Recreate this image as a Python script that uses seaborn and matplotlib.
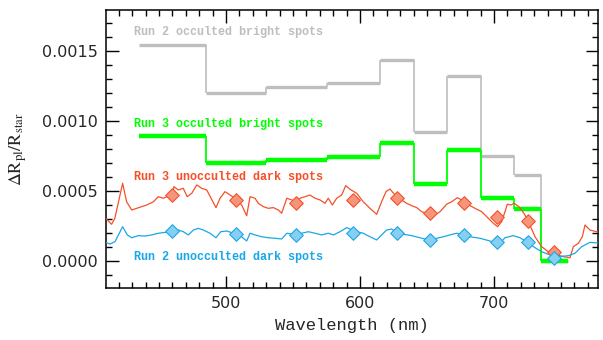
import numpy as np
import pandas as pd
import seaborn as sns
import matplotlib.pyplot as plt
from matplotlib.ticker import MultipleLocator

# binned spectra (step histograms)
bin_edges = [435, 485, 530, 575, 615, 640, 665, 690, 715, 735, 755]
run2_bright = [0.00154, 0.00120, 0.00124, 0.00127, 0.00143, 0.00092, 0.00132, 0.00075, 0.00061, 0.0]
run3_bright = [0.00089, 0.00070, 0.00072, 0.00074, 0.00084, 0.00055, 0.00079, 0.00045, 0.00037, 0.0]

# binned dark spot models (diamonds)
bin_centers = [460, 507.5, 552.5, 595, 627.5, 652.5, 677.5, 702.5, 725, 745]
run3_dark_bin = [0.00047, 0.00043, 0.00041, 0.00043, 0.00045, 0.00034, 0.00041, 0.00031, 0.00028, 0.00006]
run2_dark_bin = [0.00021, 0.00019, 0.00018, 0.00020, 0.00020, 0.00015, 0.00018, 0.00013, 0.00013, 0.00002]

# full resolution dark spot models (values in 1e-4)
red_wl = [410, 414.6, 417, 422.8, 425.8, 429.6, 433.3, 437, 440.8, 445.7, 449.4, 453.2, 455.7, 460,
          461.1, 464.4, 468.1, 471, 474.4, 478.1, 481.8, 485.6, 488.8, 492.5, 495.5, 499.2, 503, 507.5,
          511.6, 515.4, 517.9, 521.6, 524.1, 527.8, 531.5, 535.3, 539, 541.5, 545.3, 549, 552.5, 555.2,
          558.9, 562.6, 566.4, 570.1, 573.8, 576.3, 579.3, 582.6, 586.3, 589.3, 592.5, 597.5, 602.4,
          607.4, 612.4, 616.1, 619.4, 622.3, 626.1, 631, 634.8, 638.5, 642.3, 646, 649.7, 653, 655.9,
          659.7, 664.6, 668.4, 672.6, 675.9, 678, 682.1, 685.8, 690.8, 695.7, 699.5, 702.7, 705.7, 708.2,
          709.9, 712.6, 715.1, 719.4, 723.1, 726.8, 730.6, 735.6, 740.5, 745.5, 751.7, 756.7, 759.2,
          762.9, 765.9, 767.9, 771.6, 776.6, 780]
red_val = [3.03, 2.6, 3.03, 5.53, 4.2, 3.62, 3.74, 3.86, 3.98, 4.2, 4.57, 4.46, 4.57, 4.7,
           5.29, 5.05, 5.17, 4.57, 4.81, 5.41, 5.17, 5.05, 4.46, 3.79, 4.46, 4.93, 4.69, 4.4,
           3.98, 3.21, 4.57, 4.46, 4.10, 3.86, 3.74, 3.79, 3.62, 3.39, 4.46, 4.34, 4.2, 4.46,
           4.57, 4.69, 4.46, 4.34, 4.10, 4.46, 3.98, 4.46, 4.69, 5.36, 5.1, 4.81, 4.21,
           3.74, 3.31, 4.21, 4.93, 5.12, 4.69, 4.34, 4.10, 3.93, 3.79, 3.5, 3.39, 3.3, 3.26,
           3.5, 4.03, 4.21, 4.5, 4.34, 4.2, 3.93, 3.74, 3.5, 3.03, 2.67, 2.43, 2.79, 3.5,
           4.03, 3.98, 4.10, 3.79, 3.26, 2.55, 1.71, 1.0, 0.64, 0.46, 0.29, 0.21, 1.0,
           1.24, 1.71, 2.55, 2.19, 2.07, 1.96]

blue_wl = [410, 413.4, 417.1, 422.8, 426.3, 429.6, 434.5, 439.5, 444.5, 449.4, 454.4, 460, 464.4,
           468.1, 471.8, 475.6, 479.3, 483, 488, 492.5, 496, 500.5, 507.5, 511.6, 515.4, 517.9, 521.6,
           526.6, 531.5, 536.5, 541.5, 545.3, 552.5, 556.4, 561.4, 566.4, 571.4, 576.3, 580.1, 585.1,
           590, 597.5, 602.4, 607.4, 612.4, 616.1, 619.8, 623.6, 627.5, 632.3, 638.5, 644.7, 648.5,
           653, 657.2, 662.2, 667.1, 672.1, 677.5, 682.1, 689.5, 697, 703.2, 708.2, 714.4, 719.4,
           725, 729.4, 735.6, 741.8, 748, 755.5, 760.4, 765.4, 771.6, 780]
blue_val = [1.31, 1.19, 1.36, 2.43, 1.84, 1.64, 1.79, 1.76, 1.84, 1.96, 2.02, 2.07, 2.19,
            2.07, 1.84, 2.19, 2.31, 2.19, 1.96, 1.64, 2.07, 2.12, 1.9, 1.71, 1.41, 1.96, 1.84,
            1.71, 1.64, 1.6, 1.55, 1.96, 1.85, 1.96, 2.07, 1.96, 1.84, 1.96, 1.84, 2.07,
            2.36, 2.07, 1.96, 1.71, 1.48, 1.84, 2.19, 2.26, 2.0, 1.89, 1.79, 1.64, 1.55,
            1.5, 1.6, 1.71, 1.84, 1.96, 1.85, 1.71, 1.6, 1.41, 1.12, 1.64, 1.79, 1.64,
            1.3, 1.0, 0.64, 0.41, 0.29, 0.36, 0.53, 1.0, 1.31, 1.24]

GRAY = "#bebebe"
GREEN = "#00ff00"
RED = "#f5502a"
RED_FILL = "#f7957c"
BLUE = "#1aa7e6"
BLUE_FILL = "#86cff0"

sns.set_style("ticks")
plt.rcParams["font.family"] = ["DejaVu Sans"]
plt.rcParams["mathtext.fontset"] = "stix"

fig = plt.figure(figsize=(6.03, 3.40), dpi=100)
ax = fig.add_axes([0.1758, 0.1529, 0.8159, 0.8177])


def draw_steps(edges, vals, color, lw_h, lw_v):
    ax.hlines(vals, edges[:-1], edges[1:], colors=color, linewidth=lw_h, zorder=2)
    ax.vlines(edges[1:-1], vals[:-1], vals[1:], colors=color, linewidth=lw_v, zorder=2)


draw_steps(bin_edges, run2_bright, GRAY, 2.4, 1.2)
draw_steps(bin_edges, run3_bright, GREEN, 3.2, 1.3)

red_df = pd.DataFrame({"wl": red_wl, "val": np.array(red_val) * 1e-4})
blue_df = pd.DataFrame({"wl": blue_wl, "val": np.array(blue_val) * 1e-4})
sns.lineplot(data=red_df, x="wl", y="val", color=RED, linewidth=0.9, ax=ax, zorder=3)
sns.lineplot(data=blue_df, x="wl", y="val", color=BLUE, linewidth=0.9, ax=ax, zorder=3)

sns.scatterplot(x=bin_centers, y=run3_dark_bin, marker="D", s=48, color=RED_FILL,
                edgecolor=RED, linewidth=0.8, ax=ax, zorder=4)
sns.scatterplot(x=bin_centers, y=run2_dark_bin, marker="D", s=48, color=BLUE_FILL,
                edgecolor=BLUE, linewidth=0.8, ax=ax, zorder=4)

lab_kw = dict(family="Liberation Mono", fontweight="bold", fontsize=8.5, va="center", ha="left")
ax.text(431, 0.00163, "Run 2 occulted bright spots", color=GRAY, **lab_kw)
ax.text(431, 0.000974, "Run 3 occulted bright spots", color=GREEN, **lab_kw)
ax.text(431, 0.000596, "Run 3 unocculted dark spots", color=RED, **lab_kw)
ax.text(431, 0.000024, "Run 2 unocculted dark spots", color=BLUE, **lab_kw)

ax.set_xlim(410.4, 777.6)
ax.set_ylim(-0.000195, 0.00179)
ax.xaxis.set_major_locator(MultipleLocator(100))
ax.xaxis.set_minor_locator(MultipleLocator(10))
ax.yaxis.set_major_locator(MultipleLocator(0.0005))
ax.yaxis.set_minor_locator(MultipleLocator(0.0001))
ax.yaxis.set_major_formatter(plt.FuncFormatter(lambda v, p: f"{v:.4f}"))
ax.tick_params(which="both", direction="in", top=True, right=True, color="black", width=1.0)
ax.tick_params(which="major", length=9, labelsize=11.5, pad=6)
ax.tick_params(which="minor", length=4.5)
for s in ax.spines.values():
    s.set_visible(True)
    s.set_linewidth(1.1)
    s.set_color("black")

ax.set_xlabel("Wavelength (nm)", family="Liberation Mono", fontsize=12.3, labelpad=5)
ax.set_ylabel(r"$\Delta\mathrm{R}_{\mathrm{pl}}/\mathrm{R}_{\mathrm{star}}$", fontsize=13, labelpad=9)

fig.savefig("out.png", dpi=100)
